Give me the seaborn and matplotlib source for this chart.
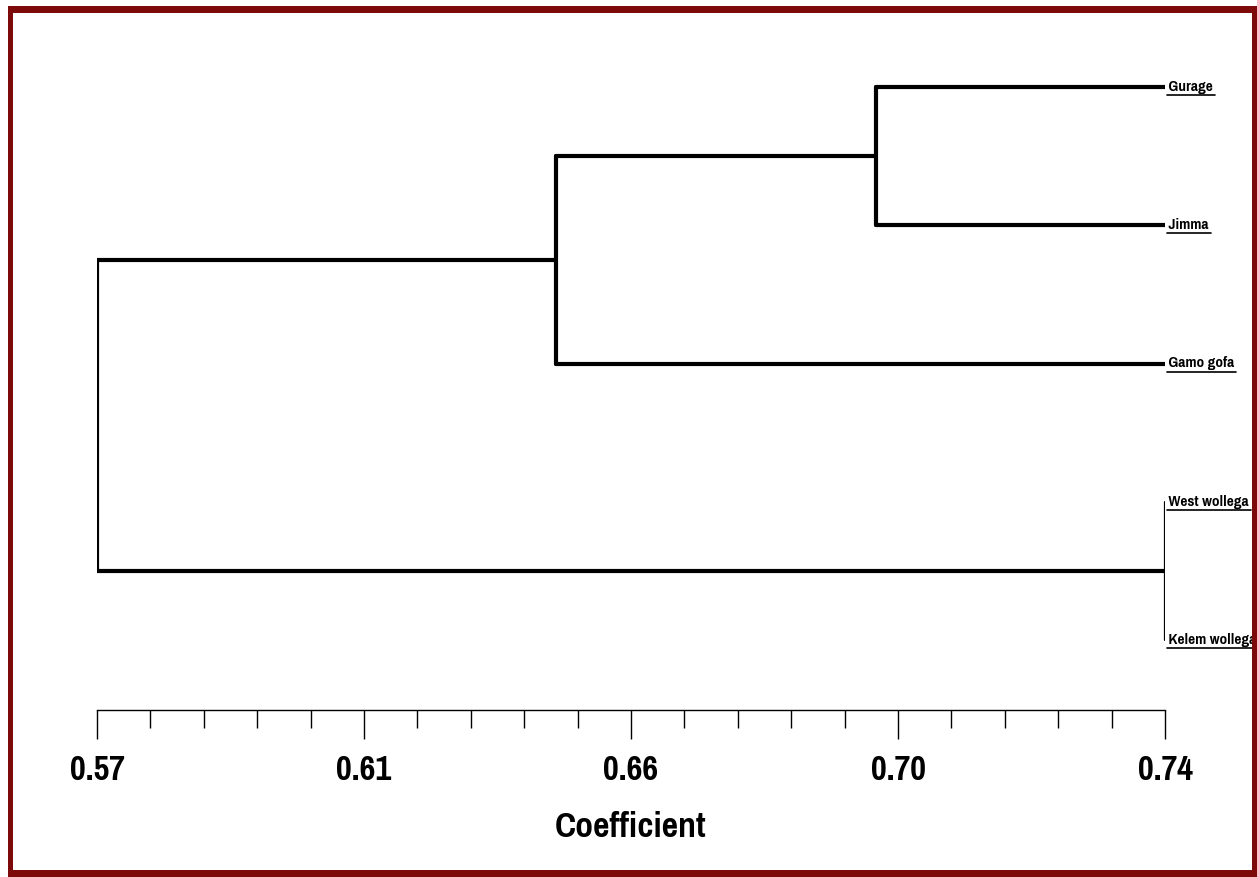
import numpy as np
import pandas as pd
import matplotlib
matplotlib.use("Agg")
import matplotlib.pyplot as plt
from matplotlib.lines import Line2D
from matplotlib.patches import Rectangle
from matplotlib import font_manager as fm
import seaborn as sns

# ---- data ----
leaves = ["Gurage", "Jimma", "Gamo gofa", "West wollega", "Kelem wollega"]
# merges: (left child, right child, coefficient); children index leaves (0..4) or previous merges (5..)
merge_left = [0, 5, 3, 6]
merge_right = [1, 2, 4, 7]
merge_height = [0.694, 0.643, 0.740, 0.570]
leaf_height = 0.74
tick_values = [0.57, 0.61, 0.66, 0.70, 0.74]
tick_labels = ["0.57", "0.61", "0.66", "0.70", "0.74"]
x_label = "Coefficient"

sns.set_theme(style="white")
plt.rcParams["font.family"] = ["DejaVu Sans"]

# look for a narrow bold face file
bold_file = None
for f in sorted(fm.findSystemFonts()):
    base = f.split("/")[-1]
    if ("Narrow" in base or "Condensed" in base) and "Bold" in base and "Italic" not in base and "Oblique" not in base:
        if bold_file is None or "Narrow" in base:
            bold_file = f

def cond_font(size):
    if bold_file is not None:
        return dict(fontproperties=fm.FontProperties(fname=bold_file, size=size))
    return dict(family="DejaVu Sans", fontstretch="condensed", fontsize=size, fontweight="bold")

W, H = 1257, 877
fig = plt.figure(figsize=(W / 100, H / 100), dpi=100)
fig.patch.set_facecolor("white")

ax_left, ax_right = 97 / W, 1165 / W
ax_bottom, ax_top = 1 - 710 / H, 1 - 20 / H
ax = fig.add_axes([ax_left, ax_bottom, ax_right - ax_left, ax_top - ax_bottom])

# ---- build dendrogram segments ----
n = len(leaves)
node_y = {i: float(i) for i in range(n)}
node_x = {i: leaf_height for i in range(n)}
segs = []
for k, (a, b, h) in enumerate(zip(merge_left, merge_right, merge_height)):
    nid = n + k
    for c in (a, b):
        if node_x[c] != h:
            segs.append((h, node_x[c], node_y[c], node_y[c], "h"))
    segs.append((h, h, node_y[a], node_y[b], "v"))
    node_x[nid] = h
    node_y[nid] = (node_y[a] + node_y[b]) / 2

rows = []
for sid, (x0, x1, y0, y1, kind) in enumerate(segs):
    rows.append(dict(seg=sid, x=x0, y=y0, kind=kind))
    rows.append(dict(seg=sid, x=x1, y=y1, kind=kind))
df = pd.DataFrame(rows)

for sid, g in df.groupby("seg"):
    thin = (g["x"].iloc[0] == leaf_height) and (g["kind"].iloc[0] == "v")
    sns.lineplot(data=g, x="x", y="y", ax=ax, sort=False, estimator=None,
                 color="black", lw=1.6 if thin else 3.0, legend=False,
                 solid_capstyle="round")

ax.set_xlim(0.57, 0.74)
ax.set_ylim(4 + 70 / 138.25, -67 / 138.25)
for s in ["top", "right", "left"]:
    ax.spines[s].set_visible(False)
ax.spines["bottom"].set_color("black")
ax.spines["bottom"].set_linewidth(1.0)
ax.set_yticks([])
ax.set_ylabel("")

major = np.linspace(0.57, 0.74, 5)
minor = np.linspace(0.57, 0.74, 21)
ax.set_xticks(major)
ax.set_xticklabels(tick_labels, color="black", **cond_font(27))
ax.set_xticks(minor, minor=True)
ax.tick_params(axis="x", which="major", direction="out", length=21, width=1.0,
               color="black", pad=11, bottom=True)
ax.tick_params(axis="x", which="minor", direction="out", length=13, width=1.0,
               color="black", bottom=True)
ax.set_xlabel(x_label, color="black", labelpad=18, **cond_font(28))

# leaf labels
texts = []
for i, name in enumerate(leaves):
    t = ax.text(leaf_height, i, " " + name, ha="left", va="center",
                color="black", clip_on=False, **cond_font(12))
    texts.append(t)

fig.canvas.draw()
r = fig.canvas.get_renderer()
inv = fig.transFigure.inverted()
for t in texts:
    bb = t.get_window_extent(r)
    (x0, y0), (x1, y1) = inv.transform([(bb.x0 + 2, bb.y0 - 1), (bb.x1 + 2, bb.y0 - 1)])
    fig.add_artist(Line2D([x0, x1], [y0, y1], color="black", lw=1.2,
                          transform=fig.transFigure))

# dark red frame
frame_col = "#7d0a0a"
for (x, y, w, h) in [(8, 0, 5, H - 6), (1252, 0, 5, H - 6), (8, 0, W - 8, 7), (8, H - 13, W - 8, 7)]:
    fig.add_artist(Rectangle((x / W, y / H), w / W, h / H, transform=fig.transFigure,
                             facecolor=frame_col, edgecolor="none", zorder=10))

fig.savefig("out.png", dpi=100, facecolor="white")
